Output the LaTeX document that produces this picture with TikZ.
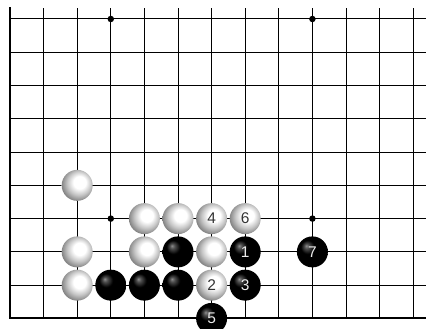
\documentclass[tikz,border=0pt]{standalone}
\usepackage{fontspec}
\setmainfont{Liberation Sans}
\pgfdeclareradialshading{wstoneshade}{\pgfpoint{5bp}{6bp}}{color(0bp)=(white); color(10bp)=(white); color(19bp)=(black!22); color(30bp)=(black!55); color(50bp)=(black!55)}
\pgfdeclareradialshading{bstoneshade}{\pgfpoint{-10bp}{10bp}}{color(0bp)=(black!45); color(4bp)=(black!70); color(11bp)=(black); color(50bp)=(black)}
\tikzset{
  gridline/.style={line width=1pt},
  boardedge/.style={line width=2pt, line cap=rect},
  stone/.style={circle, minimum size=31pt, inner sep=0pt, font=\fontsize{15.5}{15.5}\selectfont},
  wst/.style={stone, shade, shading=wstoneshade, text=black!80},
  bst/.style={stone, shade, shading=bstoneshade, text=black!8},
  hoshi/.style={circle, fill=black, inner sep=0pt, minimum size=6.5pt}
}
\begin{document}
\begin{tikzpicture}[x=33.6pt,y=-33.27pt]
\path[use as bounding box] (-0.2976,-0.5711) rectangle (12.381,9.3177);
% grid
\foreach \c in {1,...,12} \draw[gridline] (\c,-0.33) -- (\c,9);
\foreach \r in {0,...,8} \draw[gridline] (0,\r) -- (12.5,\r);
\draw[boardedge] (0,-0.33) -- (0,9) -- (12.5,9);
% star points
\node[hoshi] (h1) at (3,0) {};
\node[hoshi] (h2) at (9,0) {};
\node[hoshi] (h3) at (3,6) {};
\node[hoshi] (h4) at (9,6) {};
% white stones
\node[wst] (wa) at (2,5) {};
\node[wst] (wb) at (4,6) {};
\node[wst] (wc) at (5,6) {};
\node[wst] (w4) at (6,6) {4};
\node[wst] (w6) at (7,6) {6};
\node[wst] (wd) at (2,7) {};
\node[wst] (we) at (4,7) {};
\node[wst] (wf) at (6,7) {};
\node[wst] (wg) at (2,8) {};
\node[wst] (w2) at (6,8) {2};
% black stones
\node[bst] (ba) at (5,7) {};
\node[bst] (b1) at (7,7) {1};
\node[bst] (b7) at (9,7) {7};
\node[bst] (bb) at (3,8) {};
\node[bst] (bc) at (4,8) {};
\node[bst] (bd) at (5,8) {};
\node[bst] (b3) at (7,8) {3};
\node[bst] (b5) at (6,9) {5};
\end{tikzpicture}
\end{document}
